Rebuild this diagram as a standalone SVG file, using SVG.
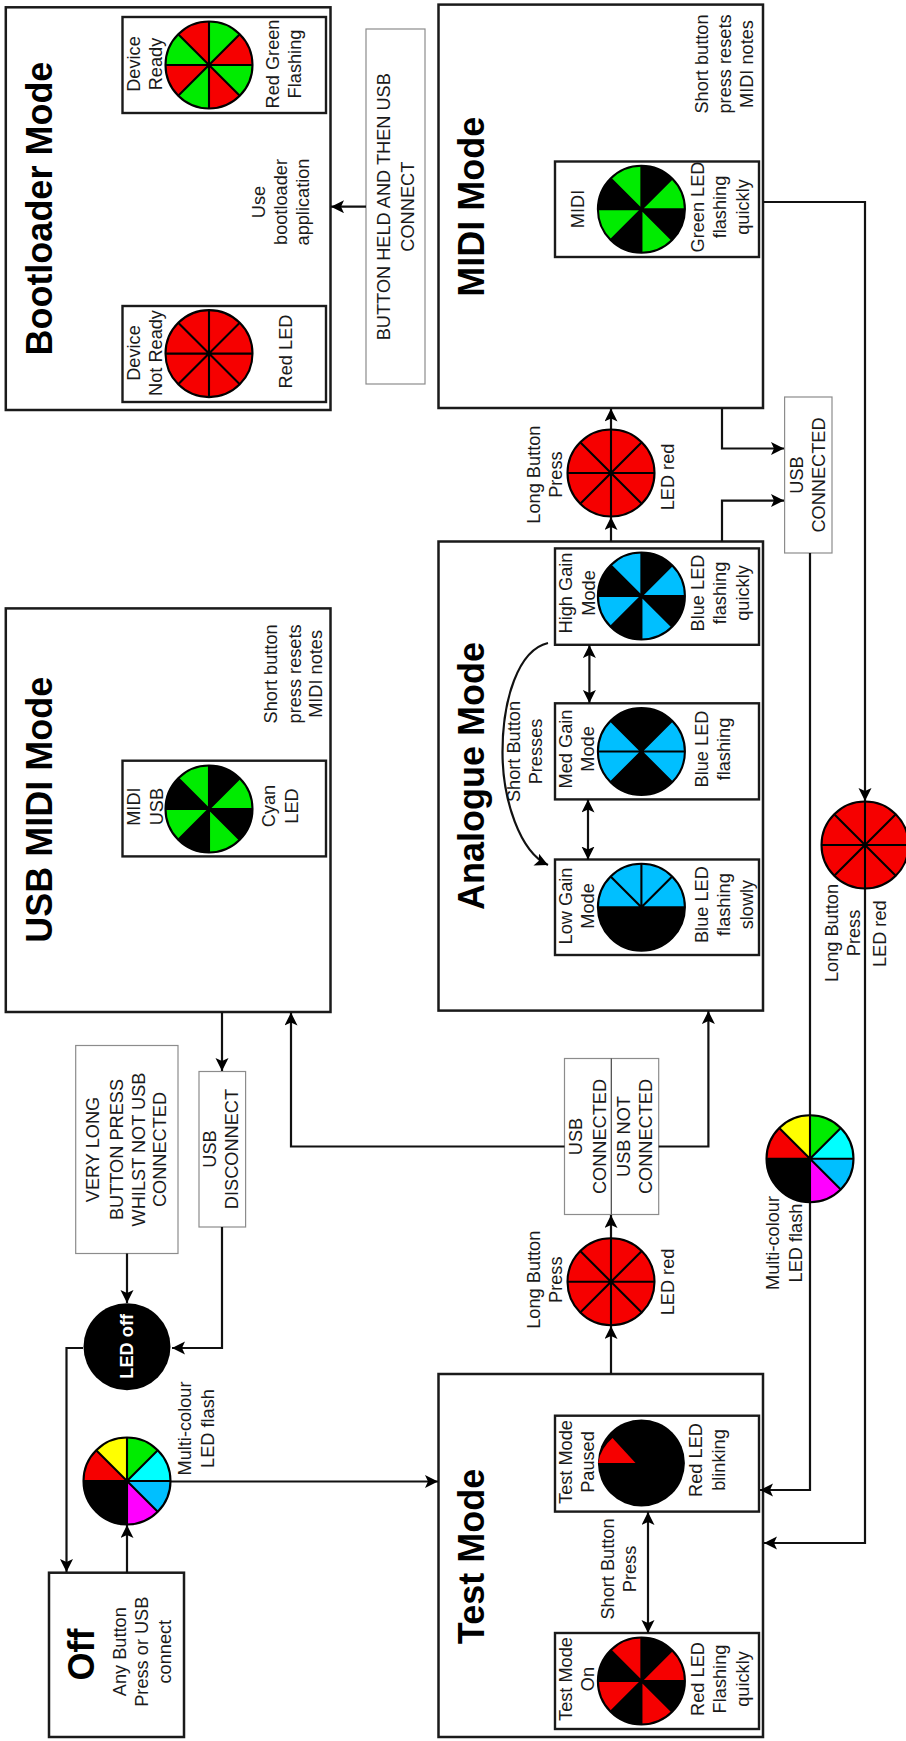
<svg xmlns="http://www.w3.org/2000/svg" width="906" height="1741" viewBox="0 0 906 1741">
<style>
text{font-family:"Liberation Sans",Arial,sans-serif;font-size:18.2px;fill:#1a1a1a;text-anchor:middle}
.title{font-size:36px;font-weight:700;fill:#000}
.mode{fill:#fff;stroke:#1a1a1a;stroke-width:2.5}
.inner{fill:#fff;stroke:#1a1a1a;stroke-width:2.4}
.label{fill:#fff;stroke:#8c8c8c;stroke-width:1.2}
.conn{fill:none;stroke:#111;stroke-width:2.2}
.spk{fill:none;stroke:#000;stroke-width:2.1}
.rim{fill:none;stroke:#000;stroke-width:2.1}
.r{fill:#f60000}.g{fill:#00ec00}.b{fill:#00bfff}.k{fill:#000}
</style>
<defs>
<marker id="ah" markerUnits="userSpaceOnUse" markerWidth="14" markerHeight="14" refX="13" refY="6.5" orient="auto"><path d="M13 6.500L0 0L3 6.500L0 13Z" fill="#000"/></marker>
<marker id="as" markerUnits="userSpaceOnUse" markerWidth="14" markerHeight="14" refX="13" refY="6.500" orient="auto-start-reverse"><path d="M13 6.500L0 0L3 6.500L0 13Z" fill="#000"/></marker>
<circle id="disc" r="43.5"/>
<path id="setA" d="M0 0L30.76 -30.76A43.500 43.500 0 0 1 43.500 0ZM0 0L30.76 30.76A43.500 43.500 0 0 1 0 43.500ZM0 0L-30.76 30.76A43.500 43.500 0 0 1 -43.500 0ZM0 0L-30.76 -30.76A43.500 43.500 0 0 1 0 -43.500Z"/>
<path id="setB" d="M0 0L0 -43.500A43.500 43.500 0 0 1 30.76 -30.76ZM0 0L43.500 0A43.500 43.500 0 0 1 30.76 30.76ZM0 0L0 43.500A43.500 43.500 0 0 1 -30.76 30.76ZM0 0L-43.500 0A43.500 43.500 0 0 1 -30.76 -30.76Z"/>
<g id="spokes"><path class="spk" d="M0 -43.500V43.500M-43.500 0H43.500M-30.76 -30.76L30.76 30.76M-30.76 30.76L30.76 -30.76"/><circle class="rim" r="43.500"/></g>
<g id="redled"><use href="#disc" class="r"/><use href="#spokes"/></g>
<g id="multi">
<use href="#disc" class="k"/>
<path fill="#00ec00" d="M0 0L0 -43.500A43.500 43.500 0 0 1 30.76 -30.76Z"/>
<path fill="#00ffff" d="M0 0L30.76 -30.76A43.500 43.500 0 0 1 43.500 0Z"/>
<path fill="#00bfff" d="M0 0L43.500 0A43.500 43.500 0 0 1 30.76 30.76Z"/>
<path fill="#ff00ff" d="M0 0L30.76 30.76A43.500 43.500 0 0 1 0 43.500Z"/>
<path fill="#f60000" d="M0 0L-43.500 0A43.500 43.500 0 0 1 -30.76 -30.76Z"/>
<path fill="#ffff00" d="M0 0L-30.76 -30.76A43.500 43.500 0 0 1 0 -43.500Z"/>
<use href="#spokes"/>
</g>
</defs>
<rect width="906" height="1741" fill="#fff"/>

<g id="bootloader">
<rect class="mode" x="5.800" y="7.300" width="324.700" height="402.700"/>
<text class="title" transform="translate(52,208.600) rotate(-90)">Bootloader Mode</text>
<text transform="translate(264.600,202) rotate(-90)">Use</text>
<text transform="translate(287,202) rotate(-90)">bootloader</text>
<text transform="translate(309,202) rotate(-90)">application</text>
</g>
<g id="device-ready">
<rect class="inner" x="122.500" y="17" width="203.500" height="96"/>
<g transform="translate(209,65)"><use href="#disc" class="r"/><use href="#setB" class="g"/><use href="#spokes"/></g>
<text transform="translate(140.400,64) rotate(-90)">Device</text>
<text transform="translate(162,64) rotate(-90)">Ready</text>
<text transform="translate(278.500,64) rotate(-90)">Red Green</text>
<text transform="translate(301,64) rotate(-90)">Flashing</text>
</g>
<g id="device-not-ready">
<rect class="inner" x="122.500" y="306" width="203.500" height="96"/>
<use href="#redled" x="209" y="353.600"/>
<text transform="translate(140.400,353) rotate(-90)">Device</text>
<text transform="translate(162,353) rotate(-90)">Not Ready</text>
<text transform="translate(292,351.500) rotate(-90)">Red LED</text>
</g>
<g id="button-held">
<rect class="label" x="366" y="29" width="59" height="355"/>
<text transform="translate(390,206.700) rotate(-90)">BUTTON HELD AND THEN USB</text>
<text transform="translate(413.700,206.700) rotate(-90)">CONNECT</text>
</g>

<g id="midi-mode">
<rect class="mode" x="438.500" y="4.600" width="324.500" height="403.400"/>
<text class="title" transform="translate(484,206.700) rotate(-90)">MIDI Mode</text>
<text transform="translate(708,64) rotate(-90)">Short button</text>
<text transform="translate(731,64) rotate(-90)">press resets</text>
<text transform="translate(753,64) rotate(-90)">MIDI notes</text>
</g>
<g id="midi">
<rect class="inner" x="555" y="161.500" width="204" height="95.500"/>
<g transform="translate(641.400,209.300)"><use href="#disc" class="k"/><use href="#setA" class="g"/><use href="#spokes"/></g>
<text transform="translate(583.600,209) rotate(-90)">MIDI</text>
<text transform="translate(703.700,207) rotate(-90)">Green LED</text>
<text transform="translate(726,207) rotate(-90)">flashing</text>
<text transform="translate(749,207) rotate(-90)">quickly</text>
</g>

<g id="usb-midi-mode">
<rect class="mode" x="5.800" y="608.400" width="324.700" height="403.600"/>
<text class="title" transform="translate(52,809.800) rotate(-90)">USB MIDI Mode</text>
<text transform="translate(277.300,673.900) rotate(-90)">Short button</text>
<text transform="translate(300.500,673.900) rotate(-90)">press resets</text>
<text transform="translate(322,673.900) rotate(-90)">MIDI notes</text>
</g>
<g id="usb-midi">
<rect class="inner" x="122.500" y="760.700" width="203.500" height="95.700"/>
<g transform="translate(209,809)"><use href="#disc" class="k"/><use href="#setA" class="g"/><use href="#spokes"/></g>
<text transform="translate(140.400,806.600) rotate(-90)">MIDI</text>
<text transform="translate(163,806.600) rotate(-90)">USB</text>
<text transform="translate(275,806) rotate(-90)">Cyan</text>
<text transform="translate(298,806) rotate(-90)">LED</text>
</g>

<g id="analogue-mode">
<rect class="mode" x="438.500" y="541.500" width="324.500" height="469.100"/>
<text class="title" transform="translate(484,776) rotate(-90)">Analogue Mode</text>
<text transform="translate(520,751.500) rotate(-90)">Short Button</text>
<text transform="translate(542,751.500) rotate(-90)">Presses</text>
</g>
<g id="high-gain">
<rect class="inner" x="555" y="548.400" width="204" height="96.400"/>
<g transform="translate(641.400,596)"><use href="#disc" class="k"/><use href="#setA" class="b"/><use href="#spokes"/></g>
<text transform="translate(572,593) rotate(-90)">High Gain</text>
<text transform="translate(595,593) rotate(-90)">Mode</text>
<text transform="translate(703.700,593) rotate(-90)">Blue LED</text>
<text transform="translate(726,593) rotate(-90)">flashing</text>
<text transform="translate(749,593) rotate(-90)">quickly</text>
</g>
<g id="med-gain">
<rect class="inner" x="555" y="703.300" width="204" height="96.100"/>
<g transform="translate(641.400,751.500)"><use href="#disc" class="k"/>
<path class="b" d="M0 0L30.76 -30.76A43.500 43.500 0 0 1 30.76 30.76ZM0 0L-30.76 30.76A43.500 43.500 0 0 1 -30.76 -30.76Z"/>
<use href="#spokes"/></g>
<text transform="translate(572,749) rotate(-90)">Med Gain</text>
<text transform="translate(594,749) rotate(-90)">Mode</text>
<text transform="translate(708,749) rotate(-90)">Blue LED</text>
<text transform="translate(730,749) rotate(-90)">flashing</text>
</g>
<g id="low-gain">
<rect class="inner" x="555" y="859.500" width="204" height="95.500"/>
<g transform="translate(641.400,907.300)"><use href="#disc" class="k"/>
<path class="b" d="M-43.500 0A43.500 43.500 0 0 1 43.500 0Z"/>
<use href="#spokes"/></g>
<text transform="translate(572,906) rotate(-90)">Low Gain</text>
<text transform="translate(594,906) rotate(-90)">Mode</text>
<text transform="translate(708,904.600) rotate(-90)">Blue LED</text>
<text transform="translate(730,904.600) rotate(-90)">flashing</text>
<text transform="translate(753,904.600) rotate(-90)">slowly</text>
</g>

<g id="test-mode">
<rect class="mode" x="438.500" y="1374" width="324.500" height="363"/>
<text class="title" transform="translate(484,1556.500) rotate(-90)">Test Mode</text>
<text transform="translate(613.600,1569) rotate(-90)">Short Button</text>
<text transform="translate(635.600,1569) rotate(-90)">Press</text>
</g>
<g id="test-paused">
<rect class="inner" x="555" y="1415.700" width="204" height="95.900"/>
<use href="#disc" class="k" x="641.400" y="1463"/>
<path class="r" d="M635.500 1463L598 1463A43.500 43.500 0 0 1 612.500 1438Z"/>
<text transform="translate(572,1462) rotate(-90)">Test Mode</text>
<text transform="translate(594,1462) rotate(-90)">Paused</text>
<text transform="translate(702,1460) rotate(-90)">Red LED</text>
<text transform="translate(725,1460) rotate(-90)">blinking</text>
</g>
<g id="test-on">
<rect class="inner" x="555" y="1633" width="204" height="96"/>
<g transform="translate(641.400,1681)"><use href="#disc" class="k"/><use href="#setA" class="r"/><use href="#spokes"/></g>
<text transform="translate(572,1679) rotate(-90)">Test Mode</text>
<text transform="translate(594,1679) rotate(-90)">On</text>
<text transform="translate(703.700,1679) rotate(-90)">Red LED</text>
<text transform="translate(726,1679) rotate(-90)">Flashing</text>
<text transform="translate(749,1679) rotate(-90)">quickly</text>
</g>

<g id="off">
<rect class="mode" x="49" y="1572.700" width="135" height="164.300"/>
<text class="title" transform="translate(93.600,1654.500) rotate(-90)">Off</text>
<text transform="translate(126,1651.700) rotate(-90)">Any Button</text>
<text transform="translate(148,1651.700) rotate(-90)">Press or USB</text>
<text transform="translate(170.500,1651.700) rotate(-90)">connect</text>
</g>
<g id="very-long">
<rect class="label" x="75.700" y="1045.500" width="102.300" height="208"/>
<text transform="translate(99.400,1149.500) rotate(-90)">VERY LONG</text>
<text transform="translate(122.500,1149.500) rotate(-90)">BUTTON PRESS</text>
<text transform="translate(144.500,1149.500) rotate(-90)">WHILST NOT USB</text>
<text transform="translate(166.400,1149.500) rotate(-90)">CONNECTED</text>
</g>
<g id="usb-disconnect">
<rect class="label" x="199" y="1071.500" width="46.600" height="155.500"/>
<text transform="translate(215.500,1149) rotate(-90)">USB</text>
<text transform="translate(238,1149) rotate(-90)">DISCONNECT</text>
</g>
<g id="usb-choice">
<rect class="label" x="564.500" y="1058.500" width="94.200" height="156"/>
<path fill="none" stroke="#444" stroke-width="1.200" d="M611.300 1058.500V1214.500"/>
<text transform="translate(582.400,1136.500) rotate(-90)">USB</text>
<text transform="translate(605.500,1136.500) rotate(-90)">CONNECTED</text>
<text transform="translate(630,1136.500) rotate(-90)">USB NOT</text>
<text transform="translate(652,1136.500) rotate(-90)">CONNECTED</text>
</g>
<g id="usb-connected">
<rect class="label" x="784.600" y="397" width="47.400" height="156"/>
<text transform="translate(803,475) rotate(-90)">USB</text>
<text transform="translate(824.500,475) rotate(-90)">CONNECTED</text>
</g>

<g id="connectors">
<path class="conn" marker-end="url(#ah)" d="M366 206.700H331"/>
<path class="conn" marker-end="url(#ah)" d="M611 429V408.500"/>
<path class="conn" marker-end="url(#ah)" d="M611 541.500V517"/>
<path class="conn" marker-end="url(#ah)" d="M722 408V448.500H784"/>
<path class="conn" marker-end="url(#ah)" d="M722 541.500V500.600H784"/>
<path class="conn" marker-end="url(#ah)" d="M763 202H865V801"/>
<path class="conn" marker-end="url(#ah)" d="M865 889V1543H764"/>
<path class="conn" d="M810 553V1115"/>
<path class="conn" marker-end="url(#ah)" d="M810 1203V1490H760"/>
<path class="conn" marker-start="url(#as)" marker-end="url(#as)" d="M589.400 645V703"/>
<path class="conn" marker-start="url(#as)" marker-end="url(#as)" d="M588 799.500V859.500"/>
<path class="conn" marker-end="url(#ah)" d="M548 643C518 650 502.500 700 502.500 752C502.500 800 520 852 548 865"/>
<path class="conn" marker-end="url(#ah)" d="M222 1012V1071"/>
<path class="conn" marker-end="url(#ah)" d="M564.500 1146.500H291V1012.500"/>
<path class="conn" marker-end="url(#ah)" d="M658.700 1146.500H708.400V1011"/>
<path class="conn" marker-end="url(#ah)" d="M611 1238V1215"/>
<path class="conn" marker-end="url(#ah)" d="M611 1374V1326"/>
<path class="conn" marker-end="url(#ah)" d="M127 1253.500V1303"/>
<path class="conn" marker-end="url(#ah)" d="M222 1227V1348H172"/>
<path class="conn" marker-end="url(#ah)" d="M83 1348H66.500V1572"/>
<path class="conn" marker-end="url(#ah)" d="M127 1572.700V1525"/>
<path class="conn" marker-end="url(#ah)" d="M171 1481.500H438"/>
<path class="conn" marker-start="url(#as)" marker-end="url(#as)" d="M648 1512V1633"/>
</g>

<g id="led-analogue-midi"><use href="#redled" x="611" y="473"/>
<text transform="translate(540,474.600) rotate(-90)">Long Button</text>
<text transform="translate(562,474.600) rotate(-90)">Press</text>
<text transform="translate(673.700,477) rotate(-90)">LED red</text>
</g>
<g id="led-midi-test"><use href="#redled" x="865" y="845"/>
<text transform="translate(838,933) rotate(-90)">Long Button</text>
<text transform="translate(860,933) rotate(-90)">Press</text>
<text transform="translate(886,933.700) rotate(-90)">LED red</text>
</g>
<g id="led-test-usb"><use href="#redled" x="611" y="1281.800"/>
<text transform="translate(540,1279.700) rotate(-90)">Long Button</text>
<text transform="translate(561.600,1279.700) rotate(-90)">Press</text>
<text transform="translate(673.700,1282) rotate(-90)">LED red</text>
</g>
<g id="multi-usb"><use href="#multi" x="810" y="1158.700"/>
<text transform="translate(779,1243) rotate(-90)">Multi-colour</text>
<text transform="translate(802,1243) rotate(-90)">LED flash</text>
</g>
<g id="multi-off"><use href="#multi" x="127" y="1481"/>
<text transform="translate(190.700,1428.500) rotate(-90)">Multi-colour</text>
<text transform="translate(213.800,1428.500) rotate(-90)">LED flash</text>
</g>
<g id="led-off">
<circle cx="127" cy="1346.700" r="43.500" fill="#000"/>
<text transform="translate(133,1346.300) rotate(-90)" style="fill:#fff;font-weight:700">LED off</text>
</g>
</svg>
